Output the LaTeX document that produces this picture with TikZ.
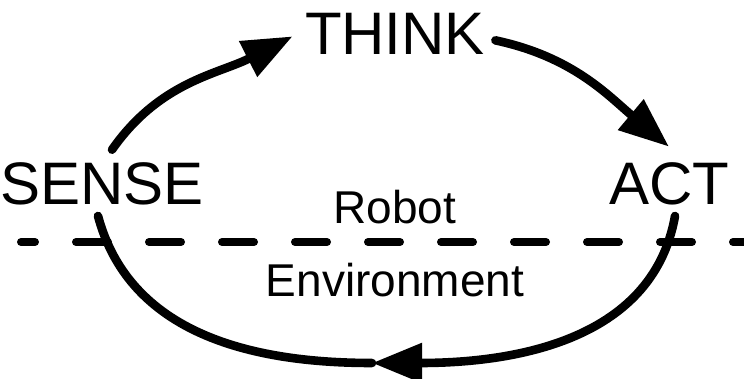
\documentclass[tikz,border=0pt]{standalone}
\usepackage{fontspec}
\setmainfont{Liberation Sans}
\usetikzlibrary{arrows.meta}

\begin{document}
\begin{tikzpicture}[x=0.5pt,y=0.5pt,>={Triangle[length=25pt,width=19pt]},
  big/.style={font=\fontsize{30}{32}\selectfont,inner sep=0pt,anchor=base},
  small/.style={font=\fontsize{23}{26}\selectfont,inner sep=0pt,anchor=base},
  loop/.style={line width=4.3pt,line cap=round}]
\useasboundingbox (0,0) rectangle (744,-379);
\node[big] (think) at (395,-55) {THINK};
\node[big] (sense) at (102,-205) {SENSE};
\node[big] (act) at (669,-205) {ACT};
\node[small] (robot) at (395,-224) {Robot};
\node[small] (env) at (395,-297) {Environment};
\coordinate (bottom) at (372,-363);
% boundary between robot and environment
\draw[line width=4pt,line cap=round,dash pattern=on 16pt off 20.5pt,dash phase=9pt] (21,-242) -- (744,-242);
\draw[loop,->] ([shift={(10,13)}]sense.north) to[out=55,in=207] ([xshift=-6pt,yshift=-1pt]think.west);
\draw[loop,->] ([shift={(10,-6)}]think.east) to[out=-12,in=140] ([yshift=8pt]act.north);
\draw[loop,->] ([shift={(6,-10)}]act.south) to[out=-100,in=0] (bottom);
\draw[loop] (bottom) to[out=180,in=-75] ([shift={(-4,-10)}]sense.south);
\end{tikzpicture}
\end{document}
